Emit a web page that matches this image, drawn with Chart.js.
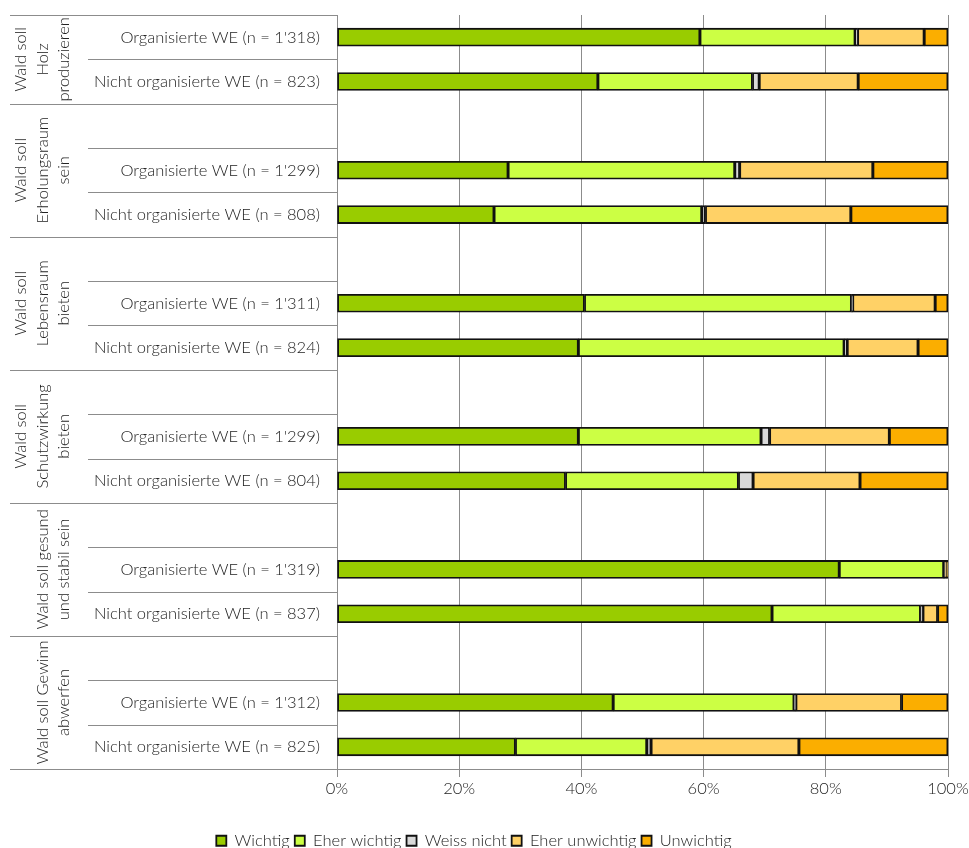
<!DOCTYPE html>
<html>
<head>
<meta charset="utf-8">
<script src="https://cdn.jsdelivr.net/npm/chart.js@4"></script>
<style>
  body { margin: 0; background: #fff; }
  #caja { width: 969px; height: 848px; position: relative; }
</style>
</head>
<body>
<div id="caja"><canvas id="grafico"></canvas></div>
<script>
// Datos
var filas = [
  "Organisierte WE (n = 1'318)", "Nicht organisierte WE (n = 823)", "",
  "Organisierte WE (n = 1'299)", "Nicht organisierte WE (n = 808)", "",
  "Organisierte WE (n = 1'311)", "Nicht organisierte WE (n = 824)", "",
  "Organisierte WE (n = 1'299)", "Nicht organisierte WE (n = 804)", "",
  "Organisierte WE (n = 1'319)", "Nicht organisierte WE (n = 837)", "",
  "Organisierte WE (n = 1'312)", "Nicht organisierte WE (n = 825)"
];
var grupos = [
  ["Wald soll", "Holz", "produzieren"],
  ["Wald soll", "Erholungsraum", "sein"],
  ["Wald soll", "Lebensraum", "bieten"],
  ["Wald soll", "Schutzwirkung", "bieten"],
  ["Wald soll gesund", "und stabil sein"],
  ["Wald soll Gewinn", "abwerfen"]
];
var grupoFilas = [2, 3, 3, 3, 3, 3];

var series = ["Wichtig", "Eher wichtig", "Weiss nicht", "Eher unwichtig", "Unwichtig"];
var wichtig       = [59.4, 42.7, null, 28.0, 25.7, null, 40.5, 39.5, null, 39.5, 37.4, null, 82.2, 71.2, null, 45.2, 29.2];
var eherWichtig   = [25.4, 25.3, null, 37.1, 34.0, null, 43.7, 43.5, null, 29.9, 28.3, null, 17.1, 24.3, null, 29.6, 21.5];
var weissNicht    = [0.4, 1.1, null, 0.8, 0.6, null, 0.2, 0.5, null, 1.4, 2.4, null, 0.1, 0.4, null, 0.3, 0.7];
var eherUnwichtig = [10.9, 16.2, null, 21.8, 23.8, null, 13.5, 11.6, null, 19.6, 17.5, null, 0.3, 2.4, null, 17.3, 24.2];
var unwichtig     = [3.9, 14.7, null, 12.3, 15.9, null, 2.1, 4.9, null, 9.6, 14.4, null, 0.3, 1.7, null, 7.6, 24.4];
var colores = ["#99cc00", "#ccff44", "#d9d9d9", "#ffd166", "#fbae00"];

var fuente = "Lato, 'Open Sans', sans-serif";
var tamano = 16.5;
var gris = "#8c8c8c";
var texto = "#222";

// Etiquetas de grupo y lineas de separacion a la izquierda
var gruposPlugin = {
  id: "grupos",
  afterDraw: function(chart) {
    var ctx = chart.ctx;
    var y = chart.scales.y;
    var area = chart.chartArea;
    var alto = y.getPixelForValue(1) - y.getPixelForValue(0);
    var inicio = 0;

    ctx.save();
    ctx.strokeStyle = gris;
    ctx.lineWidth = 1;
    ctx.fillStyle = texto;
    ctx.font = "300 " + tamano + "px " + fuente;
    ctx.textAlign = "center";
    ctx.textBaseline = "middle";

    for (var g = 0; g < grupos.length; g++) {
      var arriba = y.getPixelForValue(inicio) - alto / 2;
      var abajo = y.getPixelForValue(inicio + grupoFilas[g] - 1) + alto / 2;

      ctx.beginPath();
      ctx.moveTo(10, Math.round(arriba) + 0.5);
      ctx.lineTo(area.left, Math.round(arriba) + 0.5);
      ctx.stroke();

      for (var f = 1; f < grupoFilas[g]; f++) {
        var yy = Math.round(y.getPixelForValue(inicio + f) - alto / 2) + 0.5;
        ctx.beginPath();
        ctx.moveTo(88, yy);
        ctx.lineTo(area.left, yy);
        ctx.stroke();
      }

      var lineas = grupos[g];
      var centro = (arriba + abajo) / 2;
      for (var l = 0; l < lineas.length; l++) {
        var x = 64 - (lineas.length - 1 - l) * 21.5;
        ctx.save();
        ctx.translate(x, centro);
        ctx.rotate(-Math.PI / 2);
        ctx.fillText(lineas[l], 0, 0);
        ctx.restore();
      }
      inicio += grupoFilas[g];
    }

    ctx.beginPath();
    ctx.moveTo(10, Math.round(area.bottom) + 0.5);
    ctx.lineTo(area.left, Math.round(area.bottom) + 0.5);
    ctx.stroke();
    ctx.restore();
  }
};

var valores = [wichtig, eherWichtig, weissNicht, eherUnwichtig, unwichtig];
var datasets = [];
for (var i = 0; i < series.length; i++) {
  datasets.push({
    label: series[i],
    data: valores[i],
    backgroundColor: colores[i],
    borderColor: "#111",
    borderWidth: 1.8,
    borderSkipped: false,
    barThickness: 18
  });
}

var canvas = document.getElementById("grafico");
var grafico = new Chart(canvas, {
  type: "bar",
  data: { labels: filas, datasets: datasets },
  options: {
    indexAxis: "y",
    responsive: true,
    maintainAspectRatio: false,
    animation: false,
    layout: { padding: { top: 15, right: 21, left: 0, bottom: -11 } },
    scales: {
      x: {
        stacked: true,
        min: 0,
        max: 100,
        ticks: {
          stepSize: 20,
          padding: 2,
          color: texto,
          font: { family: fuente, size: tamano, weight: 300 },
          callback: function(v) { return v + "%"; }
        },
        grid: { color: gris, tickLength: 8 },
        border: { color: gris },
        afterFit: function(scale) {
          scale.height = 58.5;
          scale.paddingLeft = 0;
          scale.paddingRight = 0;
        }
      },
      y: {
        stacked: true,
        ticks: {
          padding: 9,
          color: texto,
          font: { family: fuente, size: tamano, weight: 300 },
          autoSkip: false
        },
        grid: { display: false },
        border: { color: gris },
        afterFit: function(scale) {
          scale.width = 337;
          scale.paddingTop = 0;
          scale.paddingBottom = 0;
        }
      }
    },
    plugins: {
      tooltip: { enabled: false },
      legend: {
        position: "bottom",
        labels: {
          boxWidth: 10,
          boxHeight: 10,
          padding: 5,
          color: texto,
          font: { family: fuente, size: tamano, weight: 300 }
        }
      }
    }
  },
  plugins: [gruposPlugin]
});
</script>
</body>
</html>
